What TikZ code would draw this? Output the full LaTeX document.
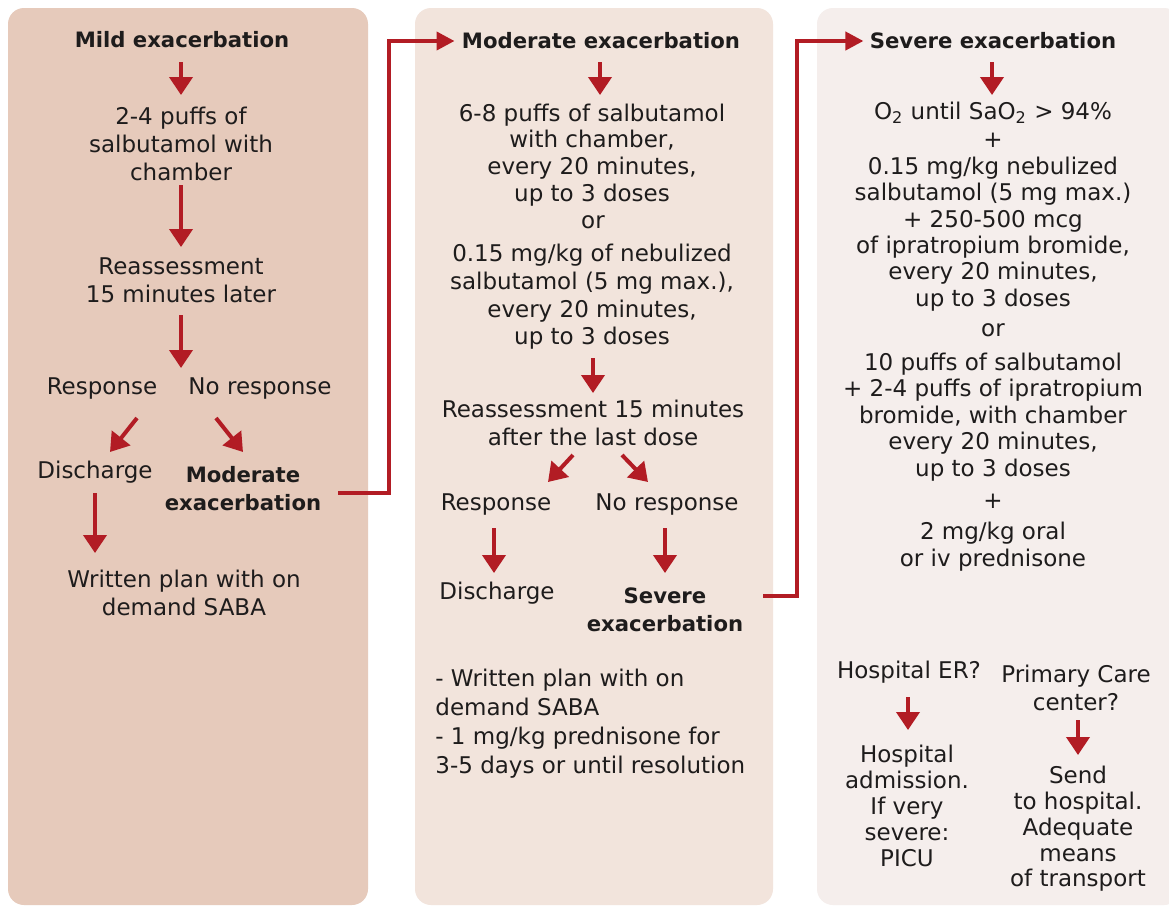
\documentclass[tikz,border=0pt]{standalone}
\usepackage{fontspec}
\setmainfont{DejaVu Sans}
\usetikzlibrary{arrows.meta}
\definecolor{ared}{RGB}{178,28,36}
\definecolor{pone}{RGB}{230,202,187}
\definecolor{ptwo}{RGB}{242,228,220}
\definecolor{pthree}{RGB}{245,238,236}
\definecolor{txt}{RGB}{30,28,28}
\begin{document}
\begin{tikzpicture}[x=0.5pt,y=-0.5pt,
  every node/.style={inner sep=0pt, text=txt, align=center, font=\fontsize{11.5}{14}\selectfont},
  ls/.style={font=\fontsize{11.5}{#1}\selectfont},
  bnode/.style={font=\fontsize{10.6}{14}\selectfont\bfseries},
  arr/.style={draw=ared, line width=2pt, -{Triangle[width=11.5pt,length=9pt]}},
  conn/.style={draw=ared, line width=2pt, -{Triangle[width=9pt,length=9pt]}},
  panel/.style={rounded corners=8pt}
]
\clip (0,0) rectangle (1169,907);
\fill[white] (0,0) rectangle (1169,907);
\fill[pone, panel] (8,8) rectangle (368,905);
\fill[ptwo, panel] (415,8) rectangle (773,905);
\fill[pthree, panel] (817,8) rectangle (1180,905);

% Panel 1
\node[bnode] (t1) at (182,40) {Mild exacerbation};
\node[ls=14] (p1) at (181,144) {2-4 puffs of\\salbutamol with\\chamber};
\node[ls=14.2] (r1) at (181,280) {Reassessment\\15 minutes later};
\node (rs1) at (102,388) {Response};
\node (nr1) at (260,388) {No response};
\node (d1) at (95,472) {Discharge};
\node[bnode] (m1) at (243,489) {Moderate\\exacerbation};
\node[ls=14] (w1) at (184,593) {Written plan with on\\demand SABA};

\draw[arr] ([shift={(-1,22)}]t1.center) -- ([shift={(0,-49)}]p1.center);
\draw[arr] ([shift={(0,41)}]p1.center) -- ([shift={(0,-33)}]r1.center);
\draw[arr] ([shift={(0,35)}]r1.center) -- ([shift={(79,-20)}]rs1.center);
\draw[arr] ([shift={(35,30)}]rs1.center) -- ([shift={(15,-20)}]d1.center);
\draw[arr] ([shift={(-44,30)}]nr1.center) -- ([shift={(0,-37)}]m1.center);
\draw[arr] ([shift={(0,21)}]d1.center) -- ([shift={(-89,-40)}]w1.center);

% Panel 2
\node[bnode] (t2) at (601,41) {Moderate exacerbation};
\node[ls=13.4] (p2) at (592,155) {6-8 puffs of salbutamol\\with chamber,\\every 20 minutes,\\up to 3 doses};
\node (or2) at (593,222) {or};
\node[ls=13.85] (q2) at (592,297) {0.15 mg/kg of nebulized\\salbutamol (5 mg max.),\\every 20 minutes,\\up to 3 doses};
\node[ls=14.3] (r2) at (593,423) {Reassessment 15 minutes\\after the last dose};
\node (rs2) at (496,504) {Response};
\node (nr2) at (667,504) {No response};
\node (d2) at (497,593) {Discharge};
\node[bnode] (s2) at (665,610) {Severe\\exacerbation};
\node[ls=14.5, anchor=west, align=left] (w2) at (435,724) {- Written plan with on\\demand SABA\\- 1 mg/kg prednisone for\\3-5 days or until resolution};

\draw[arr] ([shift={(-1,21)}]t2.center) -- ([shift={(8,-60)}]p2.center);
\draw[arr] ([shift={(1,61)}]q2.center) -- ([shift={(0,-30)}]r2.center);
\draw[arr] ([shift={(-20,32)}]r2.center) -- ([shift={(52,-22)}]rs2.center);
\draw[arr] ([shift={(29,32)}]r2.center) -- ([shift={(-19,-22)}]nr2.center);
\draw[arr] ([shift={(-2,24)}]rs2.center) -- ([shift={(-3,-20)}]d2.center);
\draw[arr] ([shift={(-2,24)}]nr2.center) -- ([shift={(0,-37)}]s2.center);

% Panel 3
\node[bnode] (t3) at (993,41) {Severe exacerbation};
\node (o3) at (993,113) {O\textsubscript{2} until SaO\textsubscript{2} > 94\%};
\node (pl3a) at (993,140) {+};
\node[ls=13.2] (n3) at (993,234) {0.15 mg/kg nebulized\\salbutamol (5 mg max.)\\+ 250-500 mcg\\of ipratropium bromide,\\every 20 minutes,\\up to 3 doses};
\node (or3) at (993,330) {or};
\node[ls=13.25] (ten3) at (993,417) {10 puffs of salbutamol\\+ 2-4 puffs of ipratropium\\bromide, with chamber\\every 20 minutes,\\up to 3 doses};
\node (pl3b) at (993,501) {+};
\node[ls=13.6] (pr3) at (993,547) {2 mg/kg oral\\or iv prednisone};
\node (h3) at (909,672) {Hospital ER?};
\node[ls=14] (pc3) at (1076,688) {Primary Care\\center?};
\node[ls=13] (ha3) at (907,806) {Hospital\\admission.\\If very\\severe:\\PICU};
\node[ls=12.9] (sh3) at (1078,829) {Send\\to hospital.\\Adequate\\means\\of transport};

\draw[arr] ([shift={(-1,21)}]t3.center) -- ([shift={(-1,-18)}]o3.center);
\draw[arr] ([shift={(-1,25)}]h3.center) -- ([shift={(1,-76)}]ha3.center);
\draw[arr] ([shift={(2,32)}]pc3.center) -- ([shift={(0,-74)}]sh3.center);

% Connectors between panels
\coordinate (k1) at (389,41);
\coordinate (k2) at (797,41);
\draw[conn] ([shift={(95,4)}]m1.center) -| (k1) -- ([xshift=-3.5pt]t2.west);
\draw[conn] ([shift={(98,-14)}]s2.center) -| (k2) -- ([xshift=-3pt]t3.west);
\end{tikzpicture}
\end{document}
